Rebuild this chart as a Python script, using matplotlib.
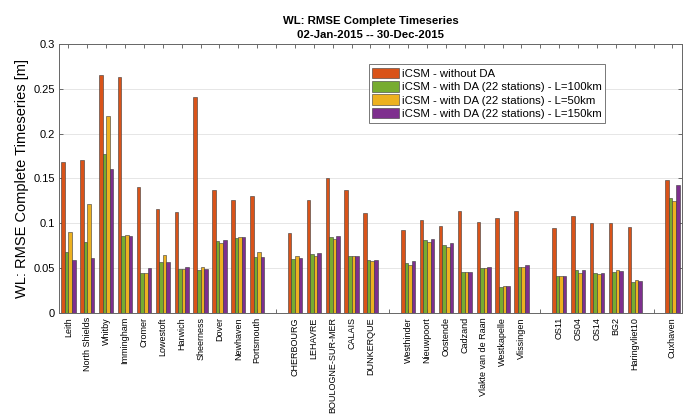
import numpy as np
import matplotlib.pyplot as plt

plt.rcParams['font.family'] = ['Liberation Sans', 'DejaVu Sans']

# stations (empty strings leave a gap between the regions)
stations = ['Leith', 'North Shields', 'Whitby', 'Immingham', 'Cromer', 'Lowestoft',
            'Harwich', 'Sheerness', 'Dover', 'Newhaven', 'Portsmouth', '',
            'CHERBOURG', 'LEHAVRE', 'BOULOGNE-SUR-MER', 'CALAIS', 'DUNKERQUE', '',
            'Westhinder', 'Nieuwpoort', 'Oostende', 'Cadzand', 'Vlakte van de Raan',
            'Westkapelle', 'Vlissingen', '',
            'OS11', 'OS04', 'OS14', 'BG2', 'Haringvliet10', '',
            'Cuxhaven']

# RMSE [m] per run, NaN where there is no station
no_da = [0.168, 0.171, 0.265, 0.263, 0.141, 0.116, 0.113, 0.241, 0.137, 0.126, 0.131, np.nan,
         0.089, 0.126, 0.151, 0.137, 0.112, np.nan,
         0.093, 0.104, 0.097, 0.114, 0.101, 0.106, 0.114, np.nan,
         0.095, 0.108, 0.100, 0.100, 0.096, np.nan,
         0.148]
da_100 = [0.068, 0.079, 0.177, 0.086, 0.045, 0.057, 0.049, 0.048, 0.080, 0.084, 0.063, np.nan,
          0.060, 0.066, 0.085, 0.064, 0.059, np.nan,
          0.056, 0.081, 0.076, 0.046, 0.050, 0.029, 0.051, np.nan,
          0.041, 0.048, 0.045, 0.046, 0.035, np.nan,
          0.128]
da_50 = [0.090, 0.122, 0.220, 0.087, 0.045, 0.065, 0.049, 0.051, 0.078, 0.085, 0.068, np.nan,
         0.064, 0.064, 0.082, 0.064, 0.058, np.nan,
         0.054, 0.079, 0.074, 0.046, 0.050, 0.030, 0.051, np.nan,
         0.041, 0.045, 0.043, 0.048, 0.037, np.nan,
         0.125]
da_150 = [0.059, 0.061, 0.161, 0.086, 0.050, 0.057, 0.051, 0.049, 0.081, 0.085, 0.063, np.nan,
          0.061, 0.067, 0.086, 0.064, 0.059, np.nan,
          0.058, 0.082, 0.078, 0.046, 0.051, 0.030, 0.053, np.nan,
          0.041, 0.048, 0.045, 0.047, 0.036, np.nan,
          0.143]

series = [
    (no_da, '#D95319', 'iCSM - without DA'),
    (da_100, '#77AC30', 'iCSM - with DA (22 stations) - L=100km'),
    (da_50, '#EDB120', 'iCSM - with DA (22 stations) - L=50km'),
    (da_150, '#7E2F8E', 'iCSM - with DA (22 stations) - L=150km'),
]

x = np.arange(1, len(stations) + 1)
w = 0.19

fig = plt.figure(figsize=(6.93, 4.15), dpi=100)
ax = fig.add_axes([0.0851, 0.2458, 0.8989, 0.6482])

for i, (vals, col, lab) in enumerate(series):
    ax.bar(x + (i - 1.5) * w, vals, w, color=col, edgecolor='#3a3a3a',
           linewidth=0.4, label=lab, zorder=3)

ax.set_xlim(0.5, len(stations) + 0.5)
ax.set_ylim(0, 0.3)
ax.set_xticks(x)
ax.set_xticklabels(stations, rotation=90, fontsize=6.5)
ax.set_yticks([0, 0.05, 0.1, 0.15, 0.2, 0.25, 0.3])
ax.set_yticklabels(['0', '0.05', '0.1', '0.15', '0.2', '0.25', '0.3'], fontsize=8)
ax.tick_params(direction='in', top=True, right=True, length=3, width=0.6,
               color='#555555', pad=3)
ax.grid(axis='y', color='#e6e6e6', linewidth=0.7, zorder=0)
for s in ax.spines.values():
    s.set_color('#666666')
    s.set_linewidth(0.7)

ax.set_ylabel('WL: RMSE Complete Timeseries [m]', fontsize=10.5, labelpad=3)
ax.set_title('WL: RMSE Complete Timeseries\n02-Jan-2015 -- 30-Dec-2015',
             fontsize=8.2, fontweight='bold', linespacing=1.6, pad=4)

leg = ax.legend(loc='upper left', bbox_to_anchor=(0.497, 0.925), fontsize=8.2,
                handlelength=2.4, handleheight=1.05, handletextpad=0.2,
                labelspacing=0.2, borderpad=0.3, borderaxespad=0,
                fancybox=False, framealpha=1)
leg.get_frame().set_edgecolor('#777777')
leg.get_frame().set_linewidth(0.7)

fig.savefig('out.png', dpi=100)
